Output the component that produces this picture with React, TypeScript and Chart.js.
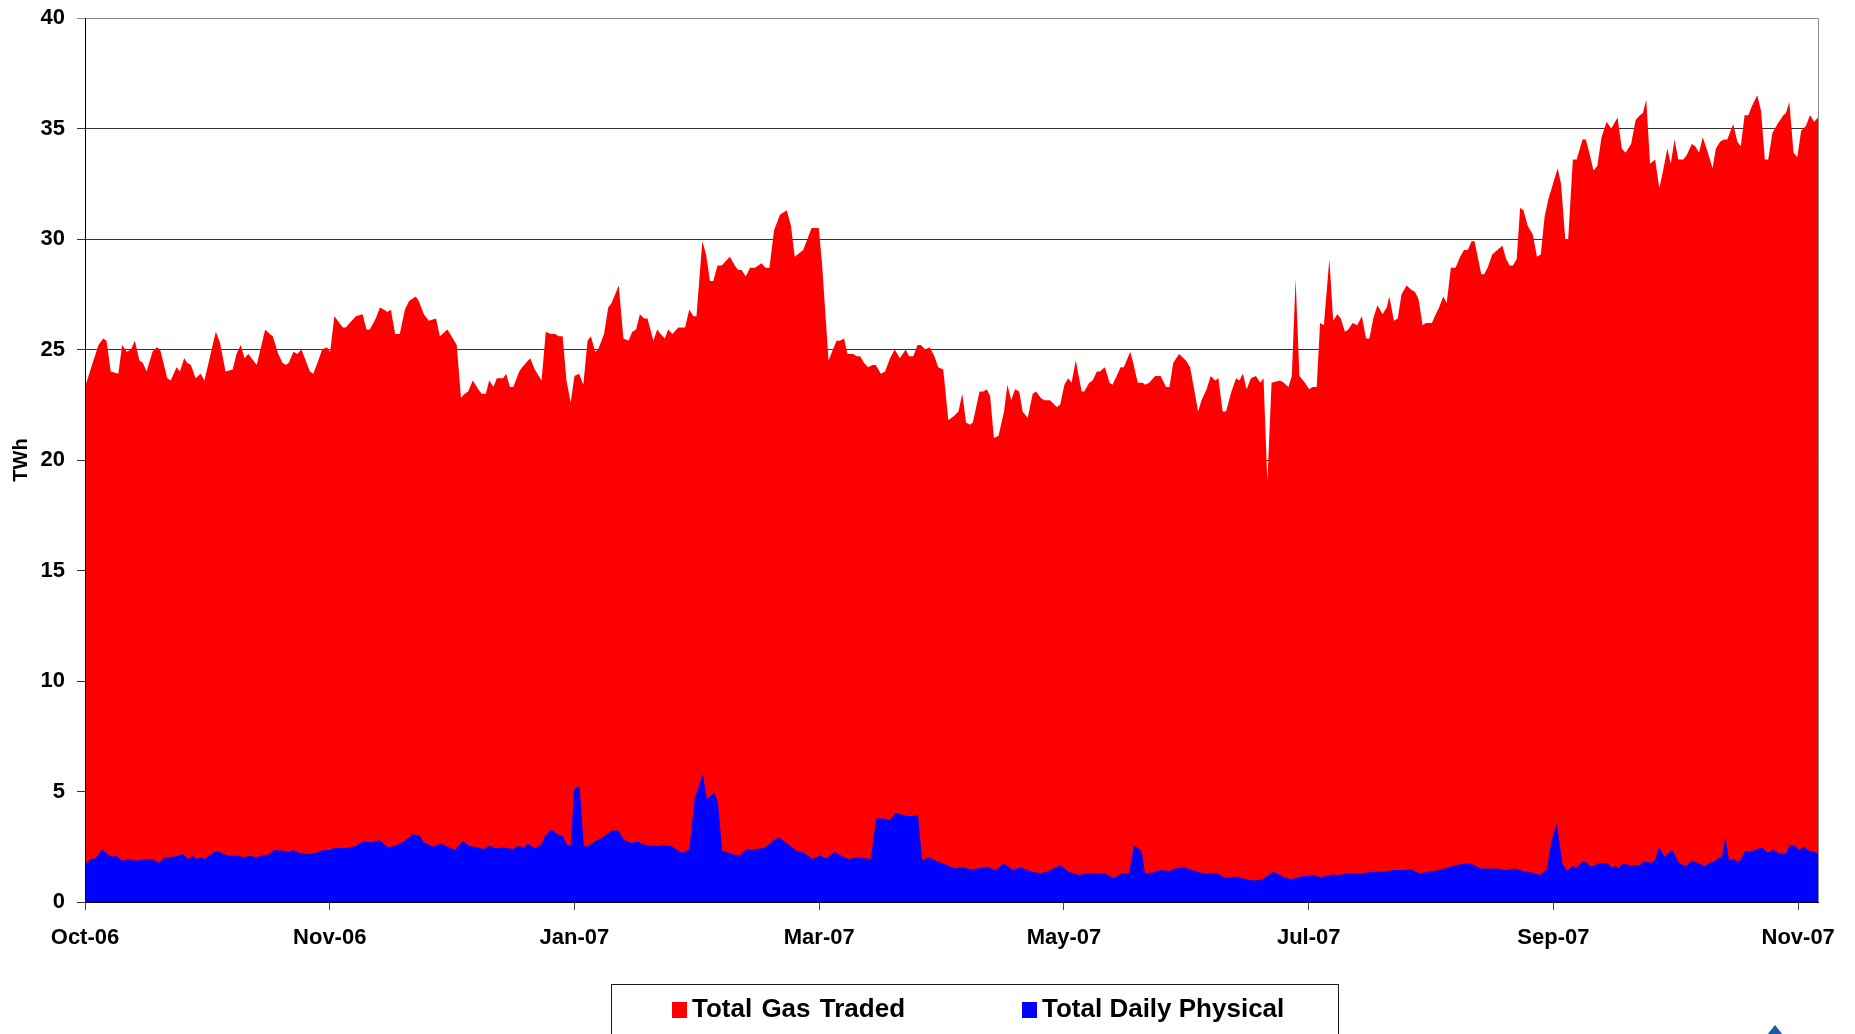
import React, { useEffect, useRef } from "react";
import { Chart, registerables } from "chart.js";

Chart.register(...registerables);

// ---- Data (day index since start of period, value in TWh) ----
const tickDays = [0, 58, 116, 174, 232, 290, 348, 406];
const tickLabels = ["Oct-06", "Nov-06", "Jan-07", "Mar-07", "May-07", "Jul-07", "Sep-07", "Nov-07"];
const lastDay = 410.7;
const yMax = 40;
const yStep = 5;
const seriesNames = ["Total Gas Traded", "Total Daily Physical"];
const seriesColors = ["#FF0000", "#0000FF"];

const gasDays = [
  0, 2.0, 3.2, 4.3, 5.1, 6.1, 7.9, 8.8, 9.9, 10.9, 11.8, 12.9, 13.7, 14.6, 16.0, 17.0, 17.8, 18.6, 19.5, 20.3,
  21.7, 22.5, 23.5, 24.2, 25.1, 26.2, 27.4, 28.3, 31.0, 32.0, 33.3, 35.0, 35.9, 36.9, 37.8, 38.7, 40.7, 42.7, 43.8, 44.5,
  45.8, 46.8, 47.6, 48.3, 49.4, 50.3, 51.3, 53.3, 54.1, 55.1, 56.2, 57.3, 58.1, 59.1, 61.1, 61.8, 63.2, 64.2, 65.8, 66.7,
  67.5, 68.9, 69.9, 70.9, 71.6, 72.5, 73.5, 74.6, 75.8, 76.8, 78.4, 79.1, 80.3, 81.5, 83.2, 84.1, 85.9, 88.1, 89.1, 90.0,
  90.8, 91.9, 93.2, 94.0, 95.0, 95.8, 96.8, 97.6, 99.1, 99.8, 100.7, 101.5, 102.9,
  103.6, 105.5, 106.6, 108.2, 109.2, 110.4, 111.4, 112.3, 113.2, 114.1, 115.1, 116.0, 117.1, 118.1, 119.1, 119.9, 120.9, 121.6, 123.0, 124.0,
  124.8, 126.5, 127.6, 128.8, 129.7, 130.6, 131.5, 132.5, 133.3, 134.7, 135.6, 136.4, 137.4, 138.2, 139.2, 140.6, 142.2, 143.2, 144.2, 144.9,
  146.3, 147.2, 148.1, 148.9, 149.9, 150.9, 152.8, 154.0, 154.8, 155.6, 156.6, 157.6, 158.8, 160.3, 161.3, 162.2, 163.3, 164.7, 166.3, 167.3,
  168.2, 170.2, 172.2, 173.9, 174.7, 176.2, 178.1, 178.9, 179.9, 180.7, 182.1, 182.9, 183.7, 184.6, 185.6, 186.6, 187.4, 188.6, 189.6, 190.8,
  191.9, 193.1, 194.5, 195.3, 196.3, 197.3, 198.1, 199.1, 200.2, 201.3, 202.2, 203.4, 204.6, 206.0,
  207.0, 207.9, 208.8, 209.7, 210.4, 212.0, 212.9, 213.7, 214.5, 215.4, 216.5, 217.8, 218.6, 219.5, 220.4, 221.4, 222.2, 223.4, 224.6, 225.4,
  226.5, 227.4, 228.7, 230.3, 231.1, 232.1, 233.0, 233.8, 234.8, 236.2, 236.8, 238.0, 238.8, 239.8, 240.5, 241.7, 242.8, 243.5, 244.5, 245.4,
  246.2, 247.7, 248.4, 249.5, 250.7, 251.2, 252.2, 253.6, 254.9, 256.2, 257.0, 257.9, 259.3, 260.9, 261.9, 263.8, 264.6, 265.8, 266.8, 267.8,
  268.6, 269.6, 270.4, 271.7, 272.8, 273.6, 274.4, 275.3, 276.3, 277.5, 278.5, 279.3, 280.2, 281.2, 283.2, 284.1, 285.2, 286.0, 286.9, 287.8,
  289.1, 290.1, 290.9, 291.9, 292.7, 293.6, 294.9, 295.8, 296.8, 297.6, 298.6, 299.4, 300.4, 301.5, 302.6, 303.6, 304.4, 305.3, 306.3, 307.5,
  308.5,
  309.1, 310.2, 311.1, 312.0, 313.2, 314.3, 315.2, 316.0, 317.0, 317.8, 319.2, 319.9, 320.9, 321.9, 322.7, 323.7, 324.8, 325.9, 326.8, 327.7,
  328.6, 329.3, 330.9, 331.6, 332.4, 333.5, 334.7, 335.9, 336.8, 337.6, 338.4, 339.3, 340.1, 340.9, 341.9, 343.1, 344.1, 345.0, 345.9, 346.8,
  349.0, 349.8, 350.8, 351.5, 352.6, 353.5, 354.9, 355.7, 356.5, 357.5, 358.4, 359.4, 360.6, 361.7, 363.2, 364.2, 365.1, 366.4, 367.5, 368.5,
  369.2, 370.0, 370.9, 372.1, 373.1, 374.1, 375.0, 375.8, 376.7, 377.6, 378.8, 379.6, 380.8, 381.6, 382.5, 383.4, 384.6, 385.7, 386.5, 387.5,
  388.4, 389.2, 390.6, 391.6, 392.4, 393.3, 394.2, 395.0, 396.3, 397.2, 398.1, 398.9, 399.9, 401.1, 402.5, 403.1, 403.9, 404.9, 405.8, 406.7,
  407.8, 408.8, 409.8, 410.7,
];

const gasValues = [
  23.3, 24.5, 25.2, 25.5, 25.4, 24.0, 23.9, 25.2, 24.9, 25.0, 25.4, 24.5, 24.4, 24.0, 24.9, 25.1, 25.0, 24.4, 23.7, 23.6,
  24.2, 24.0, 24.6, 24.4, 24.3, 23.7, 23.9, 23.6, 25.8, 25.3, 24.0, 24.1, 24.8, 25.2, 24.6, 24.8, 24.3, 25.9, 25.7, 25.6,
  24.8, 24.4, 24.3, 24.4, 24.9, 24.8, 25.0, 24.0, 23.9, 24.4, 25.0, 25.1, 24.9, 26.5, 26.0, 26.0, 26.3, 26.5, 26.6, 25.9,
  25.9, 26.4, 26.9, 26.8, 26.7, 26.8, 25.7, 25.7, 26.8, 27.2, 27.4, 27.2, 26.6, 26.3, 26.4, 25.6, 25.9, 25.2, 22.8, 23.0,
  23.1, 23.6, 23.2, 23.0, 23.0, 23.6, 23.3, 23.7, 23.7, 23.9, 23.3, 23.3, 24.0,
  24.2, 24.6, 24.1, 23.6, 25.8, 25.7, 25.7, 25.6, 25.6, 23.6, 22.6, 23.8, 23.9, 23.4, 25.4, 25.6, 24.9, 25.0, 25.7, 26.9,
  27.1, 27.9, 25.5, 25.4, 25.8, 25.9, 26.6, 26.4, 26.4, 25.4, 25.9, 25.7, 25.5, 25.9, 25.7, 26.0, 26.0, 26.8, 26.5, 26.5,
  29.9, 29.3, 28.1, 28.1, 28.8, 28.8, 29.2, 28.8, 28.6, 28.6, 28.3, 28.7, 28.7, 28.9, 28.7, 28.7, 30.4, 31.1, 31.3, 30.6,
  29.2, 29.5, 30.5, 30.5, 28.8, 24.5, 25.4, 25.4, 25.5, 24.8, 24.8, 24.7, 24.7, 24.4, 24.2, 24.3, 24.3, 23.9, 24.0, 24.6,
  25.0, 24.6, 25.0, 24.7, 24.7, 25.2, 25.2, 25.0, 25.1, 24.7, 24.2, 24.1, 21.8, 22.0,
  22.2, 23.0, 21.7, 21.6, 21.7, 23.1, 23.1, 23.2, 22.9, 21.0, 21.1, 22.2, 23.4, 22.7, 23.2, 23.1, 22.2, 21.9, 23.0, 23.1,
  22.8, 22.7, 22.7, 22.4, 22.5, 23.4, 23.7, 23.5, 24.5, 23.1, 23.1, 23.5, 23.6, 24.0, 24.0, 24.2, 23.5, 23.4, 23.8, 24.2,
  24.2, 24.9, 24.4, 23.5, 23.5, 23.4, 23.5, 23.8, 23.8, 23.3, 23.3, 24.4, 24.8, 24.5, 24.2, 22.2, 22.7, 23.2, 23.8, 23.6,
  23.7, 22.2, 22.2, 23.1, 23.7, 23.6, 23.9, 23.2, 23.7, 23.8, 23.5, 23.7, 19.0, 23.5, 23.6, 23.5, 23.3, 23.8, 28.2, 23.8,
  23.5, 23.2, 23.3, 23.3, 26.2, 26.1, 29.1, 26.3, 26.6, 26.4, 25.8, 25.9, 26.2, 26.1, 26.5, 25.5, 25.5, 26.4, 27.0, 26.6,
  26.9,
  27.4, 26.3, 26.4, 27.5, 27.9, 27.7, 27.6, 27.3, 26.1, 26.2, 26.2, 26.5, 26.9, 27.4, 27.1, 28.7, 28.7, 29.2, 29.5, 29.5,
  29.9, 29.9, 28.4, 28.4, 28.7, 29.3, 29.5, 29.7, 29.1, 28.8, 28.8, 29.1, 31.4, 31.3, 30.6, 30.2, 29.2, 29.3, 31.0, 31.8,
  33.2, 32.5, 30.0, 30.0, 33.6, 33.6, 34.5, 34.5, 33.9, 33.1, 33.3, 34.6, 35.3, 35.0, 35.5, 34.1, 33.9, 34.3, 35.4, 35.6,
  35.7, 36.3, 33.4, 33.6, 32.3, 33.2, 34.1, 33.4, 34.5, 33.6, 33.6, 33.8, 34.3, 34.2, 33.9, 34.6, 33.9, 33.2, 34.1, 34.4,
  34.5, 34.5, 35.2, 34.4, 34.2, 35.6, 35.6, 36.0, 36.5, 35.8, 33.6, 33.6, 34.8, 35.2, 35.6, 35.7, 36.2, 33.9, 33.7, 34.9,
  35.1, 35.6, 35.3, 35.5,
];

const physDays = [
  0, 1.2, 2.5, 4.1, 5.4, 6.4, 7.4, 8.7, 10.4, 12.0, 13.9, 15.9, 17.6, 18.8, 19.9, 21.8, 23.1, 24.5, 25.5, 26.4,
  27.5, 28.4, 29.7, 31.0, 32.3, 34.1, 36.3, 37.6, 38.9, 40.6, 42.2, 43.5, 44.8, 46.8, 48.1, 49.2, 50.8, 52.7, 54.7, 56.7,
  58.0, 59.3, 60.6, 62.6, 64.2, 65.9, 67.9, 69.8, 71.8, 73.8, 75.7, 77.7, 79.3, 80.3, 82.6, 84.3, 85.6, 87.6, 89.6, 90.9,
  92.2, 94.5, 95.9, 97.2, 99.4, 101.4, 102.7, 104.0, 104.9, 106.6, 108.0, 109.0, 110.6, 111.9, 113.2, 114.3, 115.1, 115.9, 117.2, 118.2,
  119.1, 120.9, 122.4, 124.8, 126.4, 127.7, 129.4, 131.0, 132.9, 135.6, 136.9, 138.9, 141.5, 143.2, 144.5, 146.4, 147.4, 149.1, 150.0, 151.0,
  152.0, 153.7, 155.3, 156.6, 158.6, 161.2, 163.2, 164.5, 166.9, 168.5, 170.4, 172.4, 174.1, 175.7, 177.7, 179.2, 181.0, 182.9, 186.2, 187.5,
  189.5, 190.8, 192.1, 194.8, 196.7, 197.4, 198.4, 200.0, 202.0, 203.7,
  205.1, 206.5, 207.8, 209.8, 211.8, 213.8, 215.8, 217.8, 219.8, 221.8, 223.8, 226.4, 228.4, 231.1, 233.1, 235.7, 237.7, 241.7, 243.7, 245.7,
  247.4, 248.6, 250.4, 251.2, 253.0, 255.0, 257.0, 258.3, 260.3, 262.3, 265.0, 268.3, 270.3, 273.0, 275.0, 277.0, 279.0, 281.6, 283.6, 285.6,
  288.3, 290.9, 292.9, 295.6, 296.9, 299.6, 302.9, 304.9, 307.6, 310.2, 312.2, 314.2, 316.2, 318.2, 320.9, 323.5, 326.2, 328.2, 330.8, 334.8,
  336.8, 338.8, 340.8, 342.8, 344.8, 346.4, 347.5, 348.8, 350.1, 351.2, 352.5, 353.4, 355.2, 357.0, 358.8, 360.8, 361.8, 362.8, 363.4, 364.5,
  365.8, 368.5, 369.4, 371.1, 372.1, 373.0, 374.3, 376.1, 377.8, 379.4, 380.7, 382.4, 383.8, 385.1, 386.0, 387.1, 388.0, 388.7, 389.6, 390.7,
  391.6, 392.4, 393.4, 394.4, 396.0, 397.4, 398.7, 400.0, 401.4, 403.0, 404.0, 405.3, 406.2, 407.3, 408.6, 409.7, 410.7,
];

const physValues = [
  1.7, 1.95, 1.98, 2.38, 2.15, 2.05, 2.09, 1.87, 1.95, 1.87, 1.93, 1.95, 1.78, 2.02, 2.02, 2.08, 2.17, 1.95, 2.09, 1.95,
  2.02, 1.95, 2.15, 2.30, 2.23, 2.09, 2.09, 2.02, 2.09, 2.02, 2.12, 2.15, 2.35, 2.32, 2.27, 2.35, 2.23, 2.17, 2.23, 2.35,
  2.35, 2.47, 2.43, 2.47, 2.53, 2.76, 2.70, 2.80, 2.47, 2.57, 2.76, 3.07, 3.00, 2.70, 2.50, 2.65, 2.53, 2.35, 2.77, 2.55,
  2.50, 2.40, 2.55, 2.43, 2.47, 2.40, 2.55, 2.47, 2.65, 2.43, 2.58, 2.99, 3.29, 3.07, 2.99, 2.58, 2.53, 5.10, 5.25, 2.55,
  2.50, 2.76, 2.88, 3.23, 3.23, 2.80, 2.68, 2.73, 2.58, 2.53, 2.58, 2.53, 2.23, 2.38, 4.69, 5.79, 4.65, 4.95, 4.50, 2.32,
  2.27, 2.15, 2.12, 2.38, 2.38, 2.47, 2.80, 2.92, 2.58, 2.32, 2.23, 1.95, 2.12, 1.98, 2.27, 2.09, 1.95, 2.02, 1.95, 3.78,
  3.78, 3.71, 4.04, 3.89, 3.89, 3.97, 1.90, 2.02, 1.83, 1.72,
  1.60, 1.52, 1.60, 1.48, 1.52, 1.60, 1.45, 1.75, 1.45, 1.57, 1.40, 1.30, 1.40, 1.67, 1.37, 1.22, 1.30, 1.30, 1.07, 1.30,
  1.30, 2.58, 2.30, 1.30, 1.33, 1.45, 1.40, 1.52, 1.57, 1.45, 1.30, 1.30, 1.07, 1.15, 1.03, 0.97, 1.03, 1.37, 1.18, 1.03,
  1.15, 1.22, 1.12, 1.25, 1.22, 1.30, 1.30, 1.37, 1.37, 1.45, 1.45, 1.48, 1.30, 1.37, 1.45, 1.60, 1.72, 1.75, 1.52, 1.52,
  1.45, 1.52, 1.40, 1.33, 1.22, 1.48, 2.73, 3.58, 1.75, 1.40, 1.63, 1.55, 1.87, 1.60, 1.75, 1.75, 1.57, 1.63, 1.52, 1.75,
  1.67, 1.67, 1.83, 1.78, 1.90, 2.50, 2.05, 2.38, 1.75, 1.63, 1.86, 1.75, 1.63, 1.78, 1.83, 1.98, 2.08, 2.96, 1.90, 1.93,
  1.83, 1.90, 2.32, 2.27, 2.38, 2.47, 2.23, 2.38, 2.20, 2.17, 2.58, 2.53, 2.35, 2.50, 2.32, 2.27, 2.20,
];

const FONT = "'Liberation Sans', Arial, Helvetica, sans-serif";

const framePlugin = {
  id: "plotFrame",
  afterDatasetsDraw(chart: any) {
    const { ctx, chartArea: a } = chart;
    ctx.save();
    ctx.lineWidth = 1;
    ctx.strokeStyle = "#8c8c8c";
    ctx.beginPath();
    ctx.moveTo(a.left, Math.round(a.top) + 0.5);
    ctx.lineTo(Math.round(a.right) + 0.5, Math.round(a.top) + 0.5);
    ctx.lineTo(Math.round(a.right) + 0.5, a.bottom);
    ctx.stroke();
    ctx.strokeStyle = "#000000";
    ctx.beginPath();
    ctx.moveTo(Math.round(a.left) + 0.5, a.top);
    ctx.lineTo(Math.round(a.left) + 0.5, Math.round(a.bottom) + 0.5);
    ctx.lineTo(a.right, Math.round(a.bottom) + 0.5);
    ctx.stroke();
    ctx.restore();
  },
};

export default function App() {
  const canvasRef = useRef<HTMLCanvasElement | null>(null);

  useEffect(() => {
    const canvas = canvasRef.current;
    if (!canvas) return;
    const gasPoints = gasDays.map((d, i) => ({ x: d, y: gasValues[i] }));
    const physPoints = physDays.map((d, i) => ({ x: d, y: physValues[i] }));

    const chart = new Chart(canvas, {
      type: "line",
      data: {
        datasets: [
          {
            label: seriesNames[0],
            data: gasPoints,
            backgroundColor: seriesColors[0],
            borderColor: seriesColors[0],
            borderWidth: 0,
            pointRadius: 0,
            fill: "origin",
            tension: 0,
            order: 1,
          },
          {
            label: seriesNames[1],
            data: physPoints,
            backgroundColor: seriesColors[1],
            borderColor: seriesColors[1],
            borderWidth: 0,
            pointRadius: 0,
            fill: "origin",
            tension: 0,
            order: 0,
          },
        ],
      },
      options: {
        responsive: false,
        animation: false,
        devicePixelRatio: 1,
        layout: { padding: { left: 0, right: 37, top: 18, bottom: 0 } },
        plugins: {
          legend: { display: false },
          tooltip: { enabled: false },
          title: { display: false },
        },
        scales: {
          x: {
            type: "linear",
            min: 0,
            max: lastDay,
            afterBuildTicks: (scale: any) => {
              scale.ticks = tickDays.map((v) => ({ value: v }));
            },
            afterFit: (scale: any) => {
              scale.height = 132;
            },
            grid: { drawOnChartArea: false, drawTicks: true, tickLength: 8, color: "#404040", lineWidth: 1 },
            border: { display: true, color: "#000000" },
            ticks: {
              autoSkip: false,
              maxRotation: 0,
              minRotation: 0,
              padding: 15,
              color: "#000000",
              font: { family: FONT, size: 22, weight: "bold" },
              callback: (v: any) => {
                const k = tickDays.indexOf(Number(v));
                return k >= 0 ? tickLabels[k] : "";
              },
            },
          },
          y: {
            min: 0,
            max: yMax,
            afterFit: (scale: any) => {
              scale.width = 85;
              scale.paddingTop = 0;
              scale.paddingBottom = 0;
            },
            grid: {
              color: (ctx: any) => (ctx.tick && ctx.tick.value === yMax ? "#8c8c8c" : "#333333"),
              tickLength: 8,
              lineWidth: 1,
            },
            border: { display: true, color: "#000000" },
            ticks: {
              stepSize: yStep,
              padding: 12,
              color: "#000000",
              font: { family: FONT, size: 22, weight: "bold" },
            },
            title: {
              display: true,
              text: "TWh",
              color: "#000000",
              font: { family: FONT, size: 20, weight: "bold" },
              padding: { top: 9, bottom: 0 },
            },
          },
        },
      },
      plugins: [framePlugin],
    } as any);

    return () => {
      chart.destroy();
    };
  }, []);

  const legendText: React.CSSProperties = {
    position: "absolute",
    top: 990,
    height: 36,
    lineHeight: "36px",
    fontFamily: FONT,
    fontWeight: "bold",
    fontSize: 26,
    color: "#000",
    whiteSpace: "pre",
  };

  return (
    <div
      style={{
        position: "absolute",
        left: 0,
        top: 0,
        width: 1855,
        height: 1034,
        overflow: "hidden",
        background: "#ffffff",
      }}
    >
      <canvas ref={canvasRef} width={1855} height={1034} style={{ position: "absolute", left: 0, top: 0, display: "block" }} />
      <div
        style={{
          position: "absolute",
          left: 611,
          top: 984,
          width: 728,
          height: 80,
          border: "1px solid #1a1a1a",
          boxSizing: "border-box",
        }}
      />
      <div style={{ position: "absolute", left: 672, top: 1002, width: 15, height: 16, background: seriesColors[0] }} />
      <div style={{ ...legendText, left: 692, wordSpacing: 2 }}>{seriesNames[0]}</div>
      <div style={{ position: "absolute", left: 1022, top: 1002, width: 15, height: 16, background: seriesColors[1] }} />
      <div style={{ ...legendText, left: 1042 }}>{seriesNames[1]}</div>
      <div
        style={{
          position: "absolute",
          left: 1767,
          top: 1025,
          width: 0,
          height: 0,
          borderLeft: "8px solid transparent",
          borderRight: "8px solid transparent",
          borderBottom: "10px solid #1f5c9e",
        }}
      />
    </div>
  );
}
